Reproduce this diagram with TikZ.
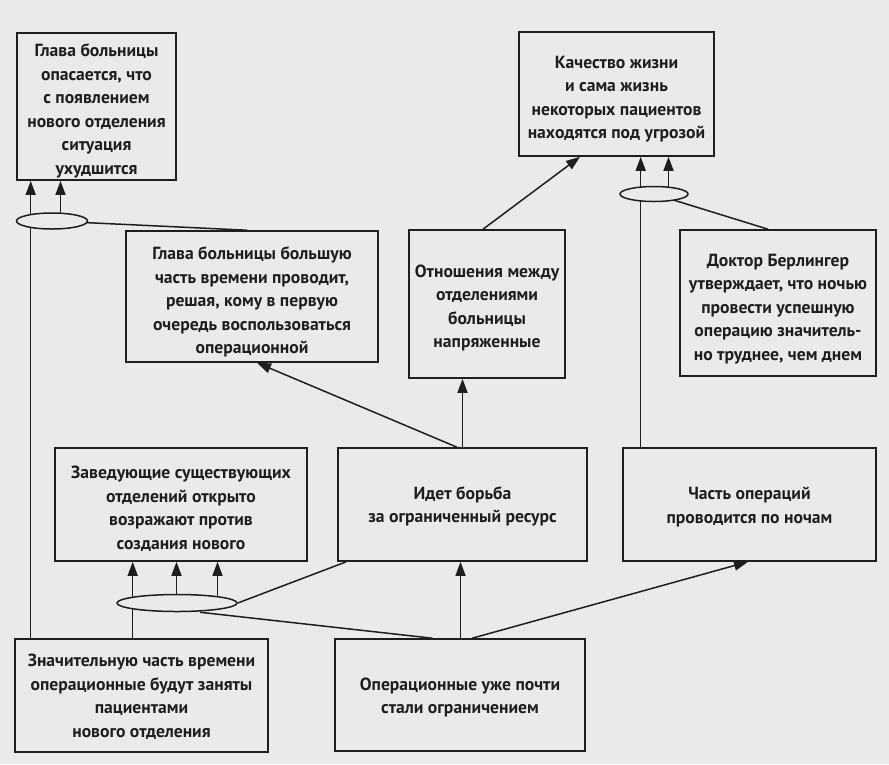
\documentclass[tikz,border=0pt]{standalone}
\usepackage{fontspec}
\setmainfont{PT Sans}
\usetikzlibrary{arrows.meta,shapes.geometric,backgrounds}
\definecolor{bg}{RGB}{234,234,234}
\definecolor{ink}{RGB}{30,30,30}
\newcommand\fsh[1]{\rule{0pt}{#1pt}}
\begin{document}
\begin{tikzpicture}[x=1pt,y=-1pt,
  box/.style={draw=ink,line width=1.6pt,align=center,inner sep=2pt,font=\bfseries\fontsize{17.6}{23.5}\selectfont,text=ink},
  oval/.style={draw=ink,line width=1.5pt,ellipse,fill=bg,inner sep=0pt},
  arr/.style={draw=ink,line width=1.5pt,-{Triangle[length=14pt,width=10pt]}},
  ln/.style={draw=ink,line width=1.5pt}]
\useasboundingbox (0,0) rectangle (889,764);
\begin{pgfonlayer}{background}
\fill[bg] (0,0) rectangle (889,764);
\end{pgfonlayer}

\node[box,minimum width=159pt,minimum height=147pt] (B1) at (96.5,106.5)
  {\fsh{22}Глава больницы\\опасается, что\\с появлением\\нового отделения\\ситуация\\ухудшится};
\node[box,minimum width=252pt,minimum height=131pt] (B2) at (252,296.5)
  {\fsh{24}Глава больницы большую\\часть времени проводит,\\решая, кому в первую\\очередь воспользоваться\\операционной};
\node[box,minimum width=156pt,minimum height=148pt] (B3) at (487,304)
  {\fsh{21}Отношения между\\отделениями\\больницы\\напряженные};
\node[box,minimum width=195pt,minimum height=124pt] (B4) at (616.5,94)
  {\fsh{23}Качество жизни\\и сама жизнь\\некоторых пациентов\\находятся под угрозой};
\node[box,minimum width=196pt,minimum height=146pt] (B5) at (778,303)
  {\fsh{24}Доктор Берлингер\\утверждает, что ночью\\провести успешную\\операцию значитель-\\но труднее, чем днем};
\node[box,minimum width=252pt,minimum height=113pt] (B6) at (181,504.5)
  {\fsh{21}Заведующие существующих\\отделений открыто\\возражают против\\создания нового};
\node[box,minimum width=249pt,minimum height=113pt] (B7) at (462.5,504.5)
  {\fsh{17}Идет борьба\\за ограниченный ресурс};
\node[box,minimum width=253pt,minimum height=113pt] (B8) at (749.5,504.5)
  {\fsh{17}Часть операций\\проводится по ночам};
\node[box,minimum width=253pt,minimum height=113pt] (B9) at (141.5,695.5)
  {\fsh{15}Значительную часть времени\\операционные будут заняты\\пациентами\\нового отделения};
\node[box,minimum width=250pt,minimum height=112pt] (B10) at (460,695)
  {\fsh{17}Операционные уже почти\\стали ограничением};

\node[oval,minimum width=71pt,minimum height=16pt] (E1) at (52,221) {};
\node[oval,minimum width=68pt,minimum height=15pt] (E2) at (654,194) {};
\node[oval,minimum width=120pt,minimum height=17pt] (E3) at (177,603) {};

\begin{pgfonlayer}{background}
\draw[arr] ([xshift=16.5pt]B9.north west) coordinate (p1) -- (p1 |- B1.south);
\draw[arr] ([xshift=8.5pt]E1.center) coordinate (p2) -- (p2 |- B1.south);
\draw[ln] ([xshift=-5pt]B2.north) -- (E1.center);
\draw[arr] ([xshift=-5.5pt]B7.north) -- ([xshift=5pt]B2.south);
\draw[arr] (B7.north) coordinate (p3) -- (p3 |- B3.south);
\draw[arr] ([xshift=-4pt]B3.north) -- ([xshift=-36.5pt]B4.south);
\draw[arr] ([xshift=18.5pt]B8.north west) coordinate (p4) -- (p4 |- B4.south);
\draw[arr] ([xshift=14.5pt]E2.center) coordinate (p5) -- (p5 |- B4.south);
\draw[ln] ([xshift=-10pt]B5.north) -- (E2.center);
\draw[arr] ([xshift=118.5pt]B9.north west) coordinate (p6) -- (p6 |- B6.south);
\draw[arr] ([xshift=-0.5pt]E3.center) coordinate (p7) -- (p7 |- B6.south);
\draw[arr] ([xshift=40.5pt]E3.center) coordinate (p8) -- (p8 |- B6.south);
\draw[ln] (E3.east) -- ([xshift=9pt]B7.south west);
\draw[ln] ([xshift=23pt]E3.south) -- ([xshift=98pt]B10.north west);
\draw[arr] ([xshift=0.5pt]B10.north) coordinate (p9) -- (p9 |- B7.south);
\draw[arr] ([xshift=138pt]B10.north west) -- ([xshift=-1.5pt]B8.south);
\end{pgfonlayer}
\end{tikzpicture}
\end{document}
